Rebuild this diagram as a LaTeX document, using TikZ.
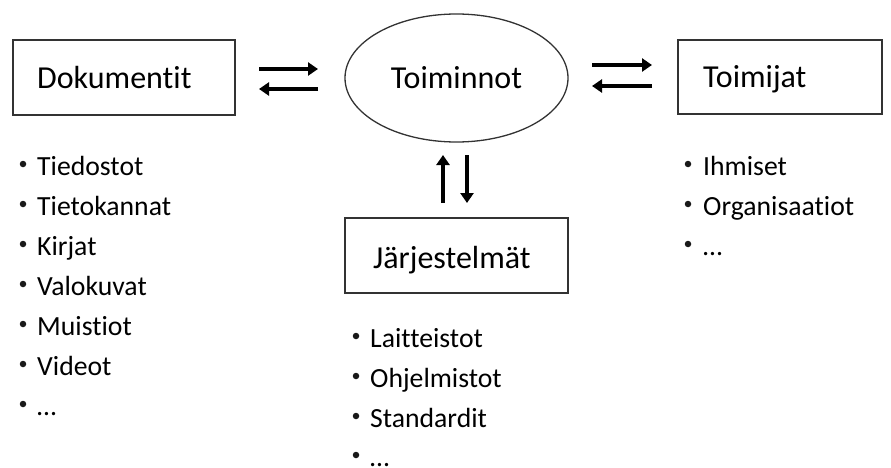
\documentclass[tikz,border=0pt]{standalone}
\usepackage{fontspec}
\setmainfont{Carlito}[Ligatures={NoCommon}]
\usetikzlibrary{arrows.meta,shapes.geometric}
\tikzset{
  box/.style={draw=black!80, line width=1.3pt, rectangle, inner sep=0pt},
  oval/.style={draw=black!80, line width=1.3pt, ellipse, minimum width=223pt, minimum height=128pt, inner sep=0pt},
  title/.style={inner sep=0pt, font=\fontsize{32}{36}\selectfont},
  item/.style={anchor=base west, inner sep=0pt, font=\fontsize{27.7}{30}\selectfont},
  bul/.style={circle, fill=black!90, inner sep=0pt, minimum size=6.5pt},
  flow/.style={line width=4.2pt, -{Triangle[width=13pt,length=10pt]}},
}
\begin{document}
\begin{tikzpicture}[x=1pt,y=-1pt]
\useasboundingbox (0,0) rectangle (891,468);
% main nodes
\node[box, minimum width=222pt, minimum height=75pt] (dok) at (124,77.5) {};
\node[title, anchor=base west] (dokt) at (37,89) {Dokumentit};
\node[oval] (toi) at (456.5,78) {};
\node[title, anchor=base] (toit) at (456.5,89) {Toiminnot};
\node[box, minimum width=204pt, minimum height=74pt] (tmj) at (780,77) {};
\node[title, anchor=base west] (tmjt) at (703,88) {Toimijat};
\node[box, minimum width=223pt, minimum height=75pt] (jar) at (456.5,255.5) {};
\node[title, anchor=base west] (jart) at (373,268) {Järjestelmät};
% arrow end points
\coordinate (a1) at (259,69); \coordinate (a2) at (318,69);
\coordinate (a3) at (318,89); \coordinate (a4) at (259,89);
\coordinate (b1) at (592,65); \coordinate (b2) at (652,65);
\coordinate (b3) at (652,86); \coordinate (b4) at (592,86);
\coordinate (c1) at (443,203); \coordinate (c2) at (443,155);
\coordinate (c3) at (467,155); \coordinate (c4) at (467,203);
\draw[flow] (a1) -- (a2);
\draw[flow] (a3) -- (a4);
\draw[flow] (b1) -- (b2);
\draw[flow] (b3) -- (b4);
\draw[flow] (c1) -- (c2);
\draw[flow] (c3) -- (c4);
% left list
\foreach \t/\y [count=\i] in {Tiedostot/175,Tietokannat/215,Kirjat/255,Valokuvat/295,Muistiot/335,Videot/375,…/415}{
  \node[bul] (lb\i) at (23,\y-11) {};
  \node[item] (li\i) at (37,\y) {\t};
}
% right list
\foreach \t/\y [count=\i] in {Ihmiset/175,Organisaatiot/215,…/255}{
  \node[bul] (rb\i) at (688,\y-11) {};
  \node[item] (ri\i) at (703,\y) {\t};
}
% middle list
\foreach \t/\y [count=\i] in {Laitteistot/347,Ohjelmistot/387,Standardit/427,…/466}{
  \node[bul] (mb\i) at (356,\y-11) {};
  \node[item] (mi\i) at (370,\y) {\t};
}
\end{tikzpicture}
\end{document}
